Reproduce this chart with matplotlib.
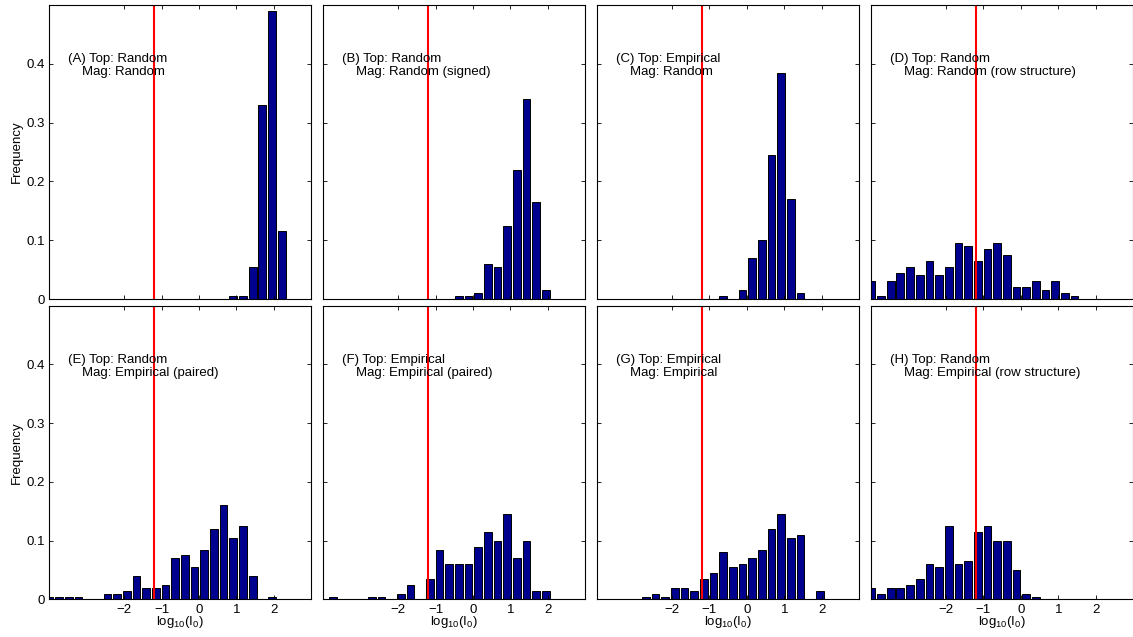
import matplotlib.pyplot as plt
import numpy as np

plt.rcParams['font.family'] = ['Liberation Sans', 'DejaVu Sans']
plt.rcParams['mathtext.default'] = 'regular'

# histogram bin centres (log10 I0), shared by all panels
first_center = -3.996
bin_step = 0.2586
n_bins = 27
threshold = -1.21  # red line

labels1 = ['(A) Top: Random', '(B) Top: Random', '(C) Top: Empirical', '(D) Top: Random',
           '(E) Top: Random', '(F) Top: Empirical', '(G) Top: Empirical', '(H) Top: Random']
labels2 = ['Mag: Random', 'Mag: Random (signed)', 'Mag: Random', 'Mag: Random (row structure)',
           'Mag: Empirical (paired)', 'Mag: Empirical (paired)', 'Mag: Empirical',
           'Mag: Empirical (row structure)']

# frequencies, keyed by bin index
freq_a = {19: 0.005, 20: 0.005, 21: 0.055, 22: 0.33, 23: 0.49, 24: 0.115}
freq_b = {14: 0.005, 15: 0.005, 16: 0.01, 17: 0.06, 18: 0.055, 19: 0.125, 20: 0.22,
          21: 0.34, 22: 0.165, 23: 0.015}
freq_c = {13: 0.005, 15: 0.015, 16: 0.07, 17: 0.10, 18: 0.245, 19: 0.385, 20: 0.17, 21: 0.01}
freq_d = {0: 0.03, 1: 0.005, 2: 0.03, 3: 0.045, 4: 0.055, 5: 0.04, 6: 0.065, 7: 0.04,
          8: 0.055, 9: 0.095, 10: 0.09, 11: 0.065, 12: 0.085, 13: 0.095, 14: 0.075,
          15: 0.02, 16: 0.02, 17: 0.03, 18: 0.015, 19: 0.03, 20: 0.01, 21: 0.005}
freq_e = {0: 0.005, 1: 0.005, 2: 0.005, 3: 0.005, 6: 0.01, 7: 0.01, 8: 0.015, 9: 0.04,
          10: 0.02, 11: 0.02, 12: 0.025, 13: 0.07, 14: 0.075, 15: 0.055, 16: 0.085,
          17: 0.12, 18: 0.16, 19: 0.105, 20: 0.125, 21: 0.04, 23: 0.005}
freq_f = {1: 0.005, 5: 0.005, 6: 0.005, 8: 0.01, 9: 0.025, 11: 0.035, 12: 0.085, 13: 0.06,
          14: 0.06, 15: 0.06, 16: 0.09, 17: 0.115, 18: 0.10, 19: 0.145, 20: 0.07,
          21: 0.10, 22: 0.015, 23: 0.015}
freq_g = {5: 0.005, 6: 0.01, 7: 0.005, 8: 0.02, 9: 0.02, 10: 0.015, 11: 0.035, 12: 0.045,
          13: 0.08, 14: 0.055, 15: 0.06, 16: 0.07, 17: 0.085, 18: 0.12, 19: 0.145,
          20: 0.105, 21: 0.11, 23: 0.015}
freq_h = {0: 0.02, 1: 0.01, 2: 0.02, 3: 0.02, 4: 0.025, 5: 0.035, 6: 0.06, 7: 0.055,
          8: 0.125, 9: 0.06, 10: 0.065, 11: 0.115, 12: 0.125, 13: 0.10, 14: 0.10,
          15: 0.05, 16: 0.01, 17: 0.005}
panels = [freq_a, freq_b, freq_c, freq_d, freq_e, freq_f, freq_g, freq_h]

centers = first_center + bin_step * np.arange(n_bins)

fig = plt.figure(figsize=(11.33, 6.37), dpi=100)

left0, step, w = 0.0435, 0.2418, 0.2312
bottoms = [0.5306, 0.0589]
h = 0.4615
fs = 9.5

for i, freq in enumerate(panels):
    row, col = divmod(i, 4)
    ax = fig.add_axes([left0 + col * step, bottoms[row], w, h])
    heights = np.zeros(n_bins)
    for k, v in freq.items():
        heights[k] = v
    ax.bar(centers, heights, width=0.8 * bin_step, color='#00008F',
           edgecolor='black', linewidth=0.7)
    ax.text(-3.5, 0.41, labels1[i], fontsize=fs, va='center_baseline')
    ax.text(-3.12, 0.388, labels2[i], fontsize=fs, va='center_baseline')
    ax.axvline(threshold, color='red', lw=1.5)
    ax.set_xlim(-4, 3)
    ax.set_ylim(0, 0.5)
    ax.set_xticks([-2, -1, 0, 1, 2])
    ax.set_yticks([0, 0.1, 0.2, 0.3, 0.4])
    ax.tick_params(direction='in', top=True, right=True, length=3, width=0.6,
                   labelsize=fs, pad=3)
    if row == 1:
        ax.set_xticklabels(['\u22122', '\u22121', '0', '1', '2'])
        ax.set_xlabel('log$_{10}$(I$_0$)', fontsize=fs, labelpad=-1)
    else:
        ax.set_xticklabels([])
    if col == 0:
        ax.set_yticklabels(['0', '0.1', '0.2', '0.3', '0.4'])
        ax.set_ylabel('Frequency', fontsize=fs, labelpad=3)
    else:
        ax.set_yticklabels([])
    for s in ax.spines.values():
        s.set_linewidth(0.8)

fig.savefig('out.png', dpi=100)
